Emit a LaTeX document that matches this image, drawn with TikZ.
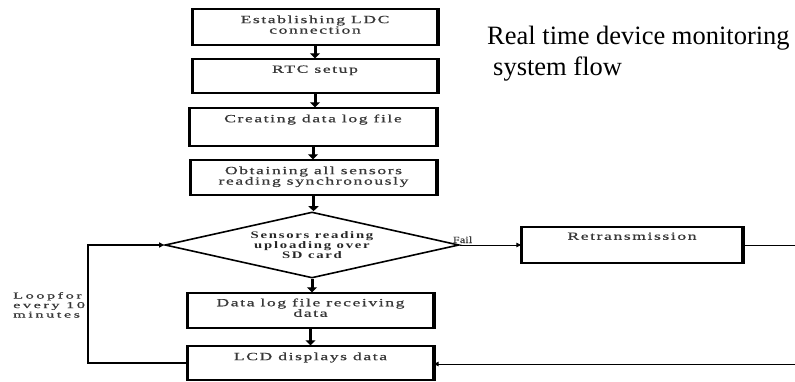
\documentclass[tikz,border=0pt]{standalone}
\usepackage{graphicx}
\usepackage{fontspec}
\setmainfont{Liberation Serif}
% tracked serif used inside the flowchart shapes
\newfontfamily\bxfont[LetterSpace=9,FakeBold=0.6]{Liberation Serif}
\newfontfamily\dxfont[LetterSpace=12]{Liberation Serif}
\newfontfamily\smfont[LetterSpace=16,FakeBold=0.6]{Liberation Serif}
% horizontally widened text
\newcommand\bxline[1]{\scalebox{1.6}[1]{#1}}
\newcommand\dxline[1]{\scalebox{1.47}[1]{#1}}
\newcommand\smline[1]{\scalebox{1.8}[1]{#1}}
\usetikzlibrary{shapes.geometric,arrows.meta}

\tikzset{
  box/.style={draw, line width=1.4pt, inner sep=0pt},
  side/.style={line width=3.6pt, line cap=butt},
  lbl/.style={anchor=north, inner sep=0pt, align=center, text=black!78,
    font=\bxfont\fontsize{11}{10.5}\selectfont},
  dia/.style={diamond, draw, line width=1.6pt, aspect=4.45, inner sep=0pt,
    align=center, text=black!85,
    font=\dxfont\bfseries\fontsize{10}{10}\selectfont},
  varrow/.style={line width=3pt, -{Triangle[length=5pt,width=10pt]}},
  conn/.style={line width=1pt},
  thinarrow/.style={line width=1pt, -{Triangle[length=5pt,width=4.5pt]}},
  loopline/.style={line width=1.6pt, -{Triangle[length=5pt,width=5pt]}},
  smlbl/.style={inner sep=0pt, align=left, text=black!78,
    font=\smfont\fontsize{9}{9.5}\selectfont},
  title/.style={inner sep=0pt, font=\fontsize{26.5}{31}\selectfont},
}

\begin{document}
\begin{tikzpicture}[x=1pt,y=-1pt]
\useasboundingbox (0,0) rectangle (795,381);

% process boxes
\node[box, minimum width=244pt, minimum height=36pt] (b1) at (315,27) {};
\node[box, minimum width=244pt, minimum height=34pt] (b2) at (315,76) {};
\node[box, minimum width=246pt, minimum height=38pt] (b3) at (313,127) {};
\node[box, minimum width=245pt, minimum height=35pt] (b4) at (313.5,177.5) {};
\node[box, minimum width=245pt, minimum height=35pt] (b5) at (310.5,310.5) {};
\node[box, minimum width=245pt, minimum height=34pt] (b6) at (310.5,363) {};
\node[box, minimum width=220pt, minimum height=36pt] (r)  at (632,245) {};

% heavier vertical edges of the boxes
\foreach \n in {b1,b2,b3,b4,b5,b6,r}
  \draw[side] (\n.north west) -- (\n.south west)
              (\n.north east) -- (\n.south east);

% decision
\node[dia, minimum width=294pt, minimum height=66pt] (d) at (312,245)
  {\dxline{Sensors reading}\\\dxline{uploading over}\\\dxline{SD card}};

% box captions, set near the top of each box
\node[lbl] (l1) at ([yshift=-7pt]b1.north) {\bxline{Establishing LDC}\\\bxline{connection}};
\node[lbl] (l2) at ([yshift=-7pt]b2.north) {\bxline{RTC setup}};
\node[lbl] (l3) at ([yshift=-7pt]b3.north) {\bxline{Creating data log file}};
\node[lbl] (l4) at ([yshift=-7pt]b4.north) {\bxline{Obtaining all sensors}\\\bxline{reading synchronously}};
\node[lbl] (l5) at ([yshift=-6pt]b5.north) {\bxline{Data log file receiving}\\\bxline{data}};
\node[lbl] (l6) at ([yshift=-7pt]b6.north) {\bxline{LCD displays data}};
\node[lbl] (l7) at ([yshift=-6pt]r.north) {\bxline{Retransmission}};

% main flow
\draw[varrow] (b1.south) -- (b1.south |- b2.north);
\draw[varrow] (b2.south) -- (b2.south |- b3.north);
\draw[varrow] (b3.south) -- (b3.south |- b4.north);
\draw[varrow] (b4.south) -- (b4.south |- d.north);
\draw[varrow] (d.south) -- (d.south |- b5.north);
\draw[varrow] (b5.south) -- (b5.south |- b6.north);

% failure branch
\draw[thinarrow] (d.east) -- (r.west);
\node[smlbl, anchor=base west] (fail) at ([xshift=-7pt,yshift=2pt]d.east)
  {\fontsize{9.5}{10}\selectfont\addfontfeature{LetterSpace=2}\scalebox{1.25}[1]{Fail}};
\coordinate (rout) at (795,245);
\coordinate (rin) at (795,364);
\draw[conn] (r.east) -- (rout);
\draw[thinarrow] (rin) -- (b6.east |- rin);

% ten-minute loop
\coordinate (lp) at (88,363);
\draw[loopline] (b6.west) -- (b6.west -| lp) -- (lp |- d.west) -- (d.west);
\node[smlbl, anchor=north west] (looptxt) at (13,292)
  {\smline{Loopfor}\\\smline{every 10}\\\smline{minutes}};

% heading
\node[title, anchor=base west] (t1) at (487,44) {Real time device monitoring};
\node[title, anchor=base west] (t2) at (493,75) {system flow};
\end{tikzpicture}
\end{document}
